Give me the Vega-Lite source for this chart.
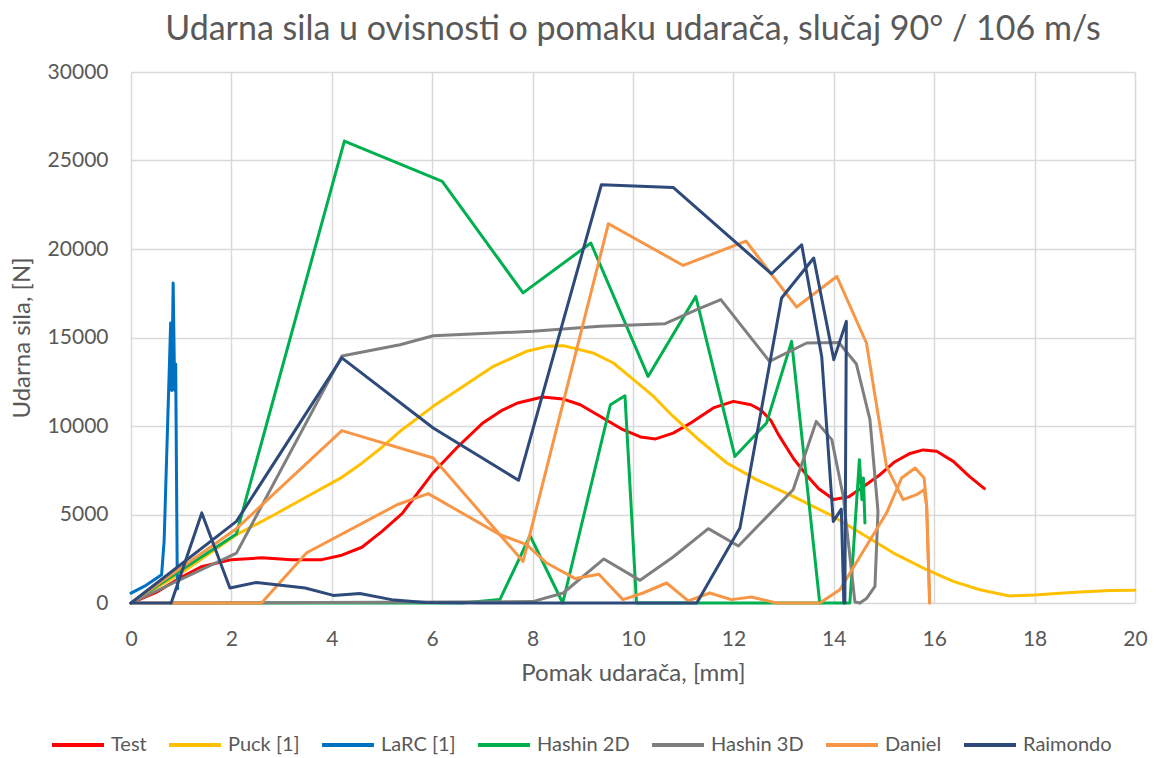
{
  "$schema": "https://vega.github.io/schema/vega-lite/v6.json",
  "width": 1004,
  "height": 531,
  "autosize": {"type": "none"},
  "padding": {"left": 131, "top": 72, "right": 24, "bottom": 155},
  "background": "white",
  "title": {"text": "Udarna sila u ovisnosti o pomaku udarača, slučaj 90° / 106 m/s", "fontSize": 34, "font": "Lato", "fontWeight": "normal", "color": "#595959", "offset": 22, "dy": 35, "anchor": "middle", "baseline": "alphabetic"},
  "config": {"view": {"stroke": null}},
  "data": {"values": [
    {"s":"Test","g":0,"i":0,"x":0,"y":0},{"s":"Test","g":0,"i":1,"x":0.5,"y":600},{"s":"Test","g":0,"i":2,"x":1.0,"y":1450},{"s":"Test","g":0,"i":3,"x":1.4,"y":2050},{"s":"Test","g":0,"i":4,"x":2.0,"y":2450},{"s":"Test","g":0,"i":5,"x":2.6,"y":2550},{"s":"Test","g":0,"i":6,"x":3.2,"y":2450},{"s":"Test","g":0,"i":7,"x":3.8,"y":2450},{"s":"Test","g":0,"i":8,"x":4.2,"y":2700},{"s":"Test","g":0,"i":9,"x":4.6,"y":3150},{"s":"Test","g":0,"i":10,"x":5.0,"y":4050},{"s":"Test","g":0,"i":11,"x":5.4,"y":5050},{"s":"Test","g":0,"i":12,"x":6.0,"y":7300},{"s":"Test","g":0,"i":13,"x":6.5,"y":8800},{"s":"Test","g":0,"i":14,"x":7.0,"y":10150},{"s":"Test","g":0,"i":15,"x":7.4,"y":10900},{"s":"Test","g":0,"i":16,"x":7.7,"y":11300},{"s":"Test","g":0,"i":17,"x":8.2,"y":11640},{"s":"Test","g":0,"i":18,"x":8.6,"y":11530},{"s":"Test","g":0,"i":19,"x":8.95,"y":11200},{"s":"Test","g":0,"i":20,"x":9.35,"y":10540},{"s":"Test","g":0,"i":21,"x":9.8,"y":9790},{"s":"Test","g":0,"i":22,"x":10.15,"y":9380},{"s":"Test","g":0,"i":23,"x":10.45,"y":9270},{"s":"Test","g":0,"i":24,"x":10.8,"y":9600},{"s":"Test","g":0,"i":25,"x":11.15,"y":10170},{"s":"Test","g":0,"i":26,"x":11.6,"y":11020},{"s":"Test","g":0,"i":27,"x":12.0,"y":11390},{"s":"Test","g":0,"i":28,"x":12.35,"y":11200},{"s":"Test","g":0,"i":29,"x":12.55,"y":10900},{"s":"Test","g":0,"i":30,"x":12.75,"y":10300},{"s":"Test","g":0,"i":31,"x":12.9,"y":9500},{"s":"Test","g":0,"i":32,"x":13.2,"y":8150},{"s":"Test","g":0,"i":33,"x":13.45,"y":7250},{"s":"Test","g":0,"i":34,"x":13.7,"y":6450},{"s":"Test","g":0,"i":35,"x":14.0,"y":5850},{"s":"Test","g":0,"i":36,"x":14.3,"y":6000},{"s":"Test","g":0,"i":37,"x":14.6,"y":6600},{"s":"Test","g":0,"i":38,"x":14.92,"y":7250},{"s":"Test","g":0,"i":39,"x":15.2,"y":7950},{"s":"Test","g":0,"i":40,"x":15.52,"y":8450},{"s":"Test","g":0,"i":41,"x":15.78,"y":8650},{"s":"Test","g":0,"i":42,"x":16.05,"y":8570},{"s":"Test","g":0,"i":43,"x":16.38,"y":8000},{"s":"Test","g":0,"i":44,"x":16.7,"y":7150},{"s":"Test","g":0,"i":45,"x":17.0,"y":6460},

    {"s":"Puck [1]","g":0,"i":0,"x":0,"y":0},{"s":"Puck [1]","g":0,"i":1,"x":1.0,"y":1700},{"s":"Puck [1]","g":0,"i":2,"x":2.1,"y":3860},{"s":"Puck [1]","g":0,"i":3,"x":2.8,"y":4900},{"s":"Puck [1]","g":0,"i":4,"x":3.5,"y":6000},{"s":"Puck [1]","g":0,"i":5,"x":4.2,"y":7100},{"s":"Puck [1]","g":0,"i":6,"x":4.6,"y":7900},{"s":"Puck [1]","g":0,"i":7,"x":5.0,"y":8800},{"s":"Puck [1]","g":0,"i":8,"x":5.36,"y":9700},{"s":"Puck [1]","g":0,"i":9,"x":6.02,"y":11110},{"s":"Puck [1]","g":0,"i":10,"x":6.62,"y":12240},{"s":"Puck [1]","g":0,"i":11,"x":7.22,"y":13370},{"s":"Puck [1]","g":0,"i":12,"x":7.88,"y":14220},{"s":"Puck [1]","g":0,"i":13,"x":8.3,"y":14500},{"s":"Puck [1]","g":0,"i":14,"x":8.61,"y":14540},{"s":"Puck [1]","g":0,"i":15,"x":9.21,"y":14120},{"s":"Puck [1]","g":0,"i":16,"x":9.61,"y":13560},{"s":"Puck [1]","g":0,"i":17,"x":10.01,"y":12620},{"s":"Puck [1]","g":0,"i":18,"x":10.41,"y":11670},{"s":"Puck [1]","g":0,"i":19,"x":10.8,"y":10540},{"s":"Puck [1]","g":0,"i":20,"x":11.33,"y":9180},{"s":"Puck [1]","g":0,"i":21,"x":11.87,"y":7910},{"s":"Puck [1]","g":0,"i":22,"x":12.46,"y":6970},{"s":"Puck [1]","g":0,"i":23,"x":13.19,"y":6020},{"s":"Puck [1]","g":0,"i":24,"x":13.99,"y":4890},{"s":"Puck [1]","g":0,"i":25,"x":14.65,"y":3760},{"s":"Puck [1]","g":0,"i":26,"x":15.19,"y":2820},{"s":"Puck [1]","g":0,"i":27,"x":15.85,"y":1880},{"s":"Puck [1]","g":0,"i":28,"x":16.38,"y":1220},{"s":"Puck [1]","g":0,"i":29,"x":16.91,"y":750},{"s":"Puck [1]","g":0,"i":30,"x":17.5,"y":400},{"s":"Puck [1]","g":0,"i":31,"x":18.0,"y":450},{"s":"Puck [1]","g":0,"i":32,"x":18.5,"y":550},{"s":"Puck [1]","g":0,"i":33,"x":19.0,"y":640},{"s":"Puck [1]","g":0,"i":34,"x":19.5,"y":700},{"s":"Puck [1]","g":0,"i":35,"x":20.0,"y":720},

    {"s":"LaRC [1]","g":0,"i":0,"x":0,"y":560},{"s":"LaRC [1]","g":0,"i":1,"x":0.3,"y":1000},{"s":"LaRC [1]","g":0,"i":2,"x":0.61,"y":1600},{"s":"LaRC [1]","g":0,"i":3,"x":0.66,"y":3500},{"s":"LaRC [1]","g":0,"i":4,"x":0.79,"y":15820},{"s":"LaRC [1]","g":0,"i":5,"x":0.81,"y":12000},{"s":"LaRC [1]","g":0,"i":6,"x":0.84,"y":18080},{"s":"LaRC [1]","g":0,"i":7,"x":0.87,"y":12000},{"s":"LaRC [1]","g":0,"i":8,"x":0.89,"y":13500},{"s":"LaRC [1]","g":0,"i":9,"x":0.92,"y":2000},{"s":"LaRC [1]","g":0,"i":10,"x":0.93,"y":800},

    {"s":"Hashin 2D","g":0,"i":0,"x":0,"y":0},{"s":"Hashin 2D","g":0,"i":1,"x":2.1,"y":3900},{"s":"Hashin 2D","g":0,"i":2,"x":4.25,"y":26100},{"s":"Hashin 2D","g":0,"i":3,"x":6.2,"y":23820},{"s":"Hashin 2D","g":0,"i":4,"x":7.81,"y":17520},{"s":"Hashin 2D","g":0,"i":5,"x":9.16,"y":20340},{"s":"Hashin 2D","g":0,"i":6,"x":10.3,"y":12800},{"s":"Hashin 2D","g":0,"i":7,"x":11.25,"y":17320},{"s":"Hashin 2D","g":0,"i":8,"x":12.03,"y":8280},{"s":"Hashin 2D","g":0,"i":9,"x":12.66,"y":10170},{"s":"Hashin 2D","g":0,"i":10,"x":13.16,"y":14780},{"s":"Hashin 2D","g":0,"i":11,"x":13.72,"y":0},{"s":"Hashin 2D","g":0,"i":12,"x":14.32,"y":0},{"s":"Hashin 2D","g":0,"i":13,"x":14.51,"y":8100},{"s":"Hashin 2D","g":0,"i":14,"x":14.56,"y":5840},{"s":"Hashin 2D","g":0,"i":15,"x":14.59,"y":7060},{"s":"Hashin 2D","g":0,"i":16,"x":14.62,"y":4520},
    {"s":"Hashin 2D","g":1,"i":0,"x":0.78,"y":0},{"s":"Hashin 2D","g":1,"i":1,"x":6.6,"y":0},{"s":"Hashin 2D","g":1,"i":2,"x":7.35,"y":200},{"s":"Hashin 2D","g":1,"i":3,"x":7.95,"y":3800},{"s":"Hashin 2D","g":1,"i":4,"x":8.6,"y":0},{"s":"Hashin 2D","g":1,"i":5,"x":9.55,"y":11200},{"s":"Hashin 2D","g":1,"i":6,"x":9.84,"y":11710},{"s":"Hashin 2D","g":1,"i":7,"x":10.07,"y":0},{"s":"Hashin 2D","g":1,"i":8,"x":13.72,"y":0},

    {"s":"Hashin 3D","g":0,"i":0,"x":0,"y":0},{"s":"Hashin 3D","g":0,"i":1,"x":2.1,"y":2820},{"s":"Hashin 3D","g":0,"i":2,"x":4.2,"y":13950},{"s":"Hashin 3D","g":0,"i":3,"x":5.36,"y":14590},{"s":"Hashin 3D","g":0,"i":4,"x":6.02,"y":15100},{"s":"Hashin 3D","g":0,"i":5,"x":8.01,"y":15350},{"s":"Hashin 3D","g":0,"i":6,"x":9.34,"y":15630},{"s":"Hashin 3D","g":0,"i":7,"x":10.64,"y":15780},{"s":"Hashin 3D","g":0,"i":8,"x":11.27,"y":16570},{"s":"Hashin 3D","g":0,"i":9,"x":11.75,"y":17140},{"s":"Hashin 3D","g":0,"i":10,"x":12.72,"y":13650},{"s":"Hashin 3D","g":0,"i":11,"x":13.46,"y":14690},{"s":"Hashin 3D","g":0,"i":12,"x":14.1,"y":14720},{"s":"Hashin 3D","g":0,"i":13,"x":14.45,"y":13500},{"s":"Hashin 3D","g":0,"i":14,"x":14.72,"y":10360},{"s":"Hashin 3D","g":0,"i":15,"x":14.88,"y":5180},{"s":"Hashin 3D","g":0,"i":16,"x":14.82,"y":940},{"s":"Hashin 3D","g":0,"i":17,"x":14.65,"y":250},{"s":"Hashin 3D","g":0,"i":18,"x":14.52,"y":0},
    {"s":"Hashin 3D","g":1,"i":0,"x":0.78,"y":0},{"s":"Hashin 3D","g":1,"i":1,"x":8.0,"y":80},{"s":"Hashin 3D","g":1,"i":2,"x":8.61,"y":565},{"s":"Hashin 3D","g":1,"i":3,"x":9.42,"y":2490},{"s":"Hashin 3D","g":1,"i":4,"x":10.14,"y":1280},{"s":"Hashin 3D","g":1,"i":5,"x":10.8,"y":2600},{"s":"Hashin 3D","g":1,"i":6,"x":11.5,"y":4200},{"s":"Hashin 3D","g":1,"i":7,"x":12.1,"y":3220},{"s":"Hashin 3D","g":1,"i":8,"x":13.19,"y":6400},{"s":"Hashin 3D","g":1,"i":9,"x":13.65,"y":10260},{"s":"Hashin 3D","g":1,"i":10,"x":13.96,"y":9230},{"s":"Hashin 3D","g":1,"i":11,"x":14.19,"y":6000},{"s":"Hashin 3D","g":1,"i":12,"x":14.42,"y":60},{"s":"Hashin 3D","g":1,"i":13,"x":14.52,"y":0},

    {"s":"Daniel","g":0,"i":0,"x":0,"y":0},{"s":"Daniel","g":0,"i":1,"x":2.1,"y":4200},{"s":"Daniel","g":0,"i":2,"x":4.2,"y":9740},{"s":"Daniel","g":0,"i":3,"x":6.02,"y":8190},{"s":"Daniel","g":0,"i":4,"x":7.81,"y":2350},{"s":"Daniel","g":0,"i":5,"x":9.51,"y":21430},{"s":"Daniel","g":0,"i":6,"x":11.0,"y":19070},{"s":"Daniel","g":0,"i":7,"x":12.25,"y":20450},{"s":"Daniel","g":0,"i":8,"x":13.26,"y":16720},{"s":"Daniel","g":0,"i":9,"x":14.06,"y":18450},{"s":"Daniel","g":0,"i":10,"x":14.65,"y":14690},{"s":"Daniel","g":0,"i":11,"x":15.05,"y":7720},{"s":"Daniel","g":0,"i":12,"x":15.38,"y":5840},{"s":"Daniel","g":0,"i":13,"x":15.65,"y":6120},{"s":"Daniel","g":0,"i":14,"x":15.8,"y":6400},{"s":"Daniel","g":0,"i":15,"x":15.85,"y":5460},{"s":"Daniel","g":0,"i":16,"x":15.91,"y":0},
    {"s":"Daniel","g":1,"i":0,"x":0,"y":0},{"s":"Daniel","g":1,"i":1,"x":2.6,"y":0},{"s":"Daniel","g":1,"i":2,"x":3.5,"y":2840},{"s":"Daniel","g":1,"i":3,"x":5.3,"y":5550},{"s":"Daniel","g":1,"i":4,"x":5.92,"y":6180},{"s":"Daniel","g":1,"i":5,"x":7.35,"y":3860},{"s":"Daniel","g":1,"i":6,"x":7.88,"y":3300},{"s":"Daniel","g":1,"i":7,"x":8.28,"y":2260},{"s":"Daniel","g":1,"i":8,"x":8.85,"y":1380},{"s":"Daniel","g":1,"i":9,"x":9.32,"y":1620},{"s":"Daniel","g":1,"i":10,"x":9.8,"y":190},{"s":"Daniel","g":1,"i":11,"x":10.2,"y":565},{"s":"Daniel","g":1,"i":12,"x":10.67,"y":1130},{"s":"Daniel","g":1,"i":13,"x":11.1,"y":120},{"s":"Daniel","g":1,"i":14,"x":11.53,"y":565},{"s":"Daniel","g":1,"i":15,"x":11.96,"y":190},{"s":"Daniel","g":1,"i":16,"x":12.36,"y":340},{"s":"Daniel","g":1,"i":17,"x":12.86,"y":0},{"s":"Daniel","g":1,"i":18,"x":13.72,"y":0},{"s":"Daniel","g":1,"i":19,"x":14.12,"y":750},{"s":"Daniel","g":1,"i":20,"x":15.05,"y":5080},{"s":"Daniel","g":1,"i":21,"x":15.35,"y":7060},{"s":"Daniel","g":1,"i":22,"x":15.62,"y":7630},{"s":"Daniel","g":1,"i":23,"x":15.8,"y":7060},{"s":"Daniel","g":1,"i":24,"x":15.85,"y":5460},{"s":"Daniel","g":1,"i":25,"x":15.91,"y":0},

    {"s":"Raimondo","g":0,"i":0,"x":0,"y":0},{"s":"Raimondo","g":0,"i":1,"x":2.1,"y":4610},{"s":"Raimondo","g":0,"i":2,"x":4.2,"y":13850},{"s":"Raimondo","g":0,"i":3,"x":6.02,"y":9890},{"s":"Raimondo","g":0,"i":4,"x":7.72,"y":6930},{"s":"Raimondo","g":0,"i":5,"x":9.37,"y":23630},{"s":"Raimondo","g":0,"i":6,"x":10.8,"y":23480},{"s":"Raimondo","g":0,"i":7,"x":12.76,"y":18600},{"s":"Raimondo","g":0,"i":8,"x":13.36,"y":20240},{"s":"Raimondo","g":0,"i":9,"x":13.76,"y":13900},{"s":"Raimondo","g":0,"i":10,"x":13.99,"y":4610},{"s":"Raimondo","g":0,"i":11,"x":14.15,"y":5300},{"s":"Raimondo","g":0,"i":12,"x":14.2,"y":0},
    {"s":"Raimondo","g":1,"i":0,"x":0,"y":0},{"s":"Raimondo","g":1,"i":1,"x":0.8,"y":0},{"s":"Raimondo","g":1,"i":2,"x":1.41,"y":5090},{"s":"Raimondo","g":1,"i":3,"x":1.97,"y":850},{"s":"Raimondo","g":1,"i":4,"x":2.5,"y":1160},{"s":"Raimondo","g":1,"i":5,"x":3.47,"y":850},{"s":"Raimondo","g":1,"i":6,"x":4.03,"y":430},{"s":"Raimondo","g":1,"i":7,"x":4.56,"y":540},{"s":"Raimondo","g":1,"i":8,"x":5.19,"y":190},{"s":"Raimondo","g":1,"i":9,"x":5.86,"y":30},{"s":"Raimondo","g":1,"i":10,"x":7.0,"y":0},{"s":"Raimondo","g":1,"i":11,"x":11.27,"y":0},{"s":"Raimondo","g":1,"i":12,"x":12.13,"y":4240},{"s":"Raimondo","g":1,"i":13,"x":12.96,"y":17230},{"s":"Raimondo","g":1,"i":14,"x":13.6,"y":19490},{"s":"Raimondo","g":1,"i":15,"x":14.0,"y":13750},{"s":"Raimondo","g":1,"i":16,"x":14.25,"y":15910},{"s":"Raimondo","g":1,"i":17,"x":14.22,"y":0}
  ]},
  "mark": {"type": "line", "strokeWidth": 3, "strokeJoin": "round", "strokeCap": "round"},
  "encoding": {
    "x": {"field": "x", "type": "quantitative", "scale": {"domain": [0, 20], "nice": false, "zero": false},
      "axis": {"values": [0,2,4,6,8,10,12,14,16,18,20], "title": "Pomak udarača, [mm]", "grid": true, "gridColor": "#d9d9d9", "gridWidth": 1.5, "domain": false, "ticks": false, "labelFlush": false, "labelBaseline": "bottom", "labelPadding": 46, "labelFont": "Lato", "labelFontSize": 21, "labelColor": "#595959", "titleFont": "Lato", "titleFontSize": 24, "titleFontWeight": "normal", "titleColor": "#595959", "titleY": 58, "titleBaseline": "top"}},
    "y": {"field": "y", "type": "quantitative", "scale": {"domain": [0, 30000], "nice": false},
      "axis": {"values": [0,5000,10000,15000,20000,25000,30000], "format": "d", "title": "Udarna sila, [N]", "grid": true, "gridColor": "#d9d9d9", "gridWidth": 1.5, "domain": false, "ticks": false, "labelPadding": 23, "labelFont": "Lato", "labelFontSize": 21, "labelColor": "#595959", "titleFont": "Lato", "titleFontSize": 24, "titleFontWeight": "normal", "titleColor": "#595959", "titleX": -109, "titleBaseline": "middle"}},
    "color": {"field": "s", "type": "nominal",
      "scale": {"domain": ["Test","Puck [1]","LaRC [1]","Hashin 2D","Hashin 3D","Daniel","Raimondo"], "range": ["#ff0000","#ffc000","#0070c0","#00b050","#7f7f7f","#f79646","#2e4a7a"]},
      "legend": {"title": null, "orient": "none", "legendX": -81, "legendY": 645, "direction": "horizontal", "columns": 7, "symbolType": "stroke", "symbolSize": 2704, "symbolStrokeWidth": 4, "labelFont": "Lato", "labelFontSize": 20, "labelColor": "#595959", "labelOffset": 5, "columnPadding": 14, "padding": 0}},
    "detail": {"field": "g"},
    "order": {"field": "i", "type": "quantitative"}
  }
}
